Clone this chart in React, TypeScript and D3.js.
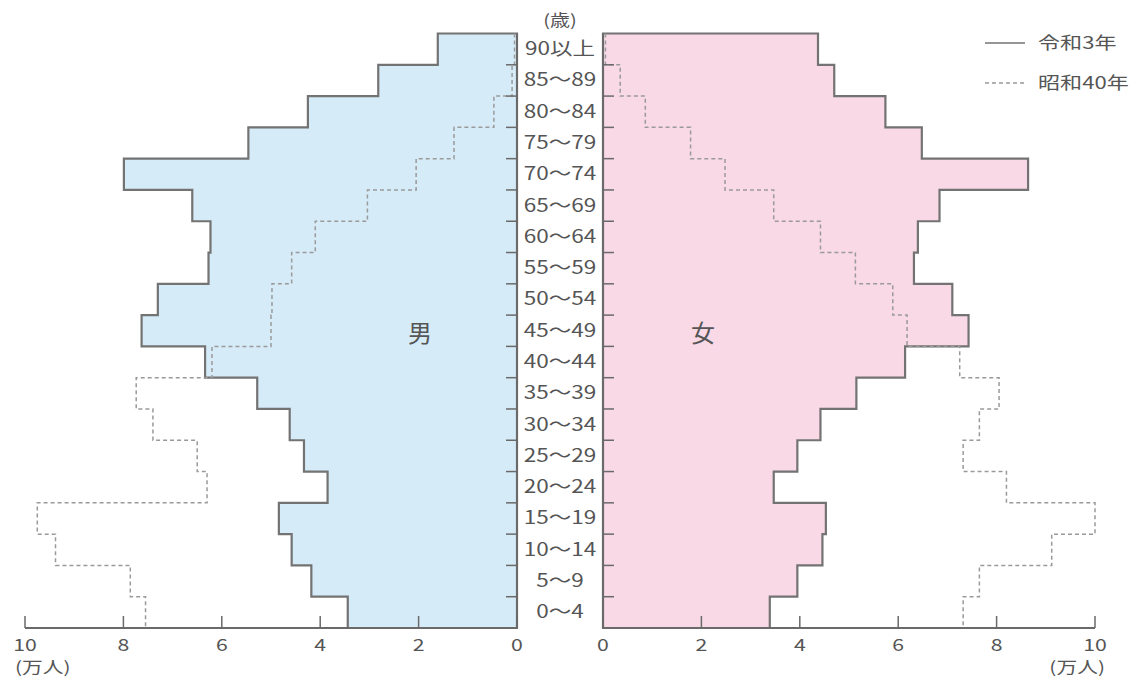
import React from 'react';
import * as d3 from 'd3';

// 年齢階級（下から上へ）
const ages = [
  '0〜4', '5〜9', '10〜14', '15〜19', '20〜24', '25〜29', '30〜34', '35〜39', '40〜44',
  '45〜49', '50〜54', '55〜59', '60〜64', '65〜69', '70〜74', '75〜79', '80〜84', '85〜89', '90以上',
];

// 万人
const maleR3 = [3.44, 4.18, 4.58, 4.84, 3.85, 4.33, 4.62, 5.28, 6.34, 7.63, 7.3, 6.27, 6.23, 6.6, 7.99, 5.46, 4.25, 2.82, 1.61];
const maleS40 = [7.55, 7.86, 9.38, 9.75, 6.3, 6.5, 7.4, 7.74, 6.2, 5.0, 4.98, 4.58, 4.1, 3.04, 2.05, 1.28, 0.47, 0.1, 0.05];
const femaleR3 = [3.39, 3.95, 4.46, 4.53, 3.47, 3.95, 4.42, 5.15, 6.14, 7.43, 7.1, 6.32, 6.4, 6.84, 8.64, 6.48, 5.74, 4.7, 4.37];
const femaleS40 = [7.32, 7.65, 9.12, 10.0, 8.2, 7.32, 7.65, 8.05, 7.25, 6.18, 5.89, 5.13, 4.42, 3.47, 2.48, 1.78, 0.86, 0.35, 0.05];

const xTicks = [0, 2, 4, 6, 8, 10];
const legendItems = [
  { label: '令和3年', dashed: false },
  { label: '昭和40年', dashed: true },
];

const W = 1132;
const H = 680;
const top = 33.5;
const bottom = 628;

const xLeft = d3.scaleLinear().domain([0, 10]).range([517, 25]);
const xRight = d3.scaleLinear().domain([0, 10]).range([603, 1095]);
const y = d3.scaleBand<string>().domain([...ages].reverse()).range([top, bottom]);

const font = '"Noto Sans CJK JP", "Noto Sans", sans-serif';
const line = d3.line<[number, number]>();

// 横に広い書体を真似るため横方向に伸ばしたテキスト
const T: React.FC<{ x: number; y: number; size: number; anchor?: string; sx?: number; children: React.ReactNode }> = ({ x, y, size, anchor = 'middle', sx = 1.25, children }) => (
  <g transform={`translate(${x},${y}) scale(${sx},1)`}>
    <text textAnchor={anchor} fontSize={size} fill="#555" fontFamily={font}>{children}</text>
  </g>
);

// 上から下への階段状の点列
function steps(values: number[], x: d3.ScaleLinear<number, number>): [number, number][] {
  const pts: [number, number][] = [];
  for (let i = ages.length - 1; i >= 0; i--) {
    const y0 = y(ages[i])!;
    pts.push([x(values[i]), y0], [x(values[i]), y0 + y.bandwidth()]);
  }
  return pts;
}

function area(values: number[], x: d3.ScaleLinear<number, number>) {
  const pts: [number, number][] = [[x(0), top], ...steps(values, x), [x(0), bottom]];
  return line(pts) + 'Z';
}

const Panel: React.FC<{ r3: number[]; s40: number[]; x: d3.ScaleLinear<number, number>; fill: string; dir: number }> = ({ r3, s40, x, fill, dir }) => {
  const x0 = x(0);
  return (
    <g>
      <path d={area(r3, x)} fill={fill} stroke="#737373" strokeWidth={2.2} />
      <path d={line(steps(s40, x)) || ''} fill="none" stroke="#9a9a9a" strokeWidth={1.5} strokeDasharray="4 3" />
      {/* 縦軸 */}
      <line x1={x0} x2={x0} y1={top} y2={bottom} stroke="#6a6a6a" strokeWidth={2} />
      {ages.map((a, i) =>
        i === 0 ? null : (
          <line key={a} x1={x0} x2={x0 + dir * 11} y1={y(a)! + y.bandwidth()} y2={y(a)! + y.bandwidth()} stroke="#6a6a6a" strokeWidth={1.5} />
        )
      )}
      {/* 横軸 */}
      <line x1={x(0)} x2={x(10)} y1={bottom} y2={bottom} stroke="#6a6a6a" strokeWidth={2} />
      {xTicks.map(t => (
        <g key={t}>
          <line x1={x(t)} x2={x(t)} y1={bottom} y2={bottom - 12} stroke="#6a6a6a" strokeWidth={1.5} />
          <T x={x(t)} y={651} size={17}>{t}</T>
        </g>
      ))}
    </g>
  );
};

export default function App() {
  return (
    <svg width={W} height={H} style={{ position: 'absolute', left: 0, top: 0, background: '#fff' }}>
      <Panel r3={maleR3} s40={maleS40} x={xLeft} fill="#d6ebf8" dir={-1} />
      <Panel r3={femaleR3} s40={femaleS40} x={xRight} fill="#f9d9e6" dir={1} />

      <text x={420} y={342} textAnchor="middle" fontSize={24} fill="#555" fontFamily={font}>男</text>
      <text x={703} y={342} textAnchor="middle" fontSize={24} fill="#555" fontFamily={font}>女</text>

      <T x={560} y={26} size={16}>(歳)</T>
      {ages.map(a => (
        <T key={a} x={560} y={y(a)! + y.bandwidth() / 2 + 6} size={18}>{a}</T>
      ))}

      <T x={15} y={673} size={16} anchor="start" sx={1.3}>(万人)</T>
      <T x={1105} y={673} size={16} anchor="end" sx={1.3}>(万人)</T>

      {legendItems.map((d, i) => (
        <g key={d.label} transform={`translate(985, ${43 + i * 40})`}>
          <line x1={0} x2={40} y1={0} y2={0} stroke={d.dashed ? '#9a9a9a' : '#737373'} strokeWidth={1.5} strokeDasharray={d.dashed ? '4 3' : undefined} />
          <T x={53} y={6} size={17} anchor="start" sx={1.3}>{d.label}</T>
        </g>
      ))}
    </svg>
  );
}
